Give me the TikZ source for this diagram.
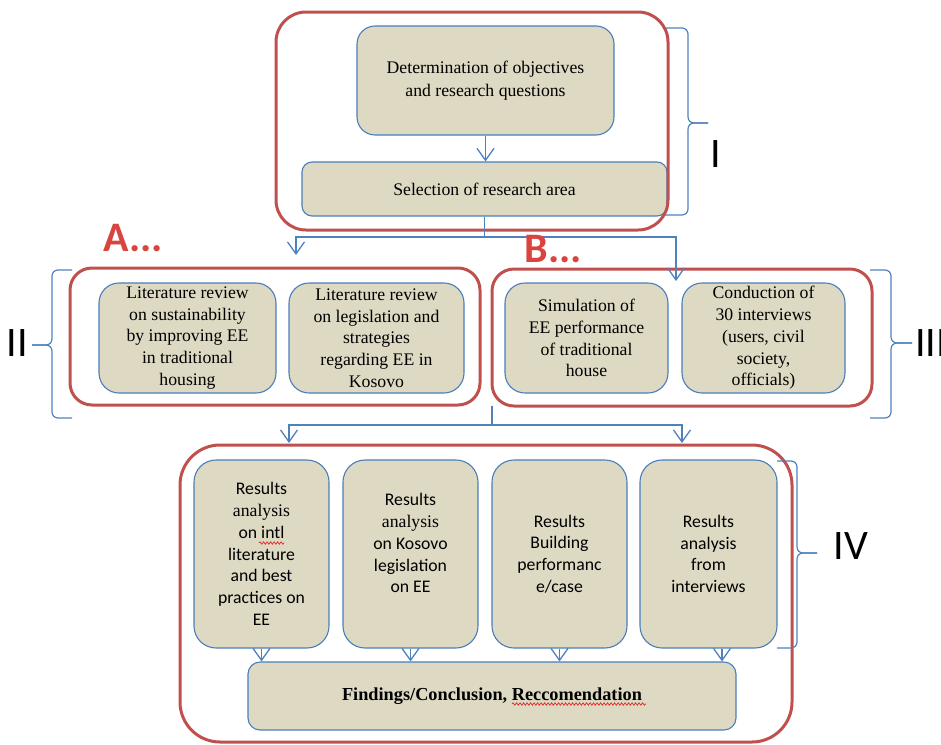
\documentclass[tikz,border=0pt]{standalone}
\usepackage{fontspec}
\setmainfont{Liberation Serif}
\newfontfamily\calib{Carlito}
\usepackage{tikz}
\usetikzlibrary{arrows.meta,decorations.pathmorphing}

\definecolor{boxtan}{HTML}{DDD9C3}
\definecolor{edgeblue}{HTML}{4A7EBB}
\definecolor{linkblue}{HTML}{4F81BD}
\definecolor{grpred}{HTML}{C0504D}
\definecolor{spellred}{HTML}{E02828}
\definecolor{letterred}{HTML}{D9443F}

\begin{document}
\begin{tikzpicture}
		[x=1pt,y=-1pt,
		box/.style={draw=edgeblue,line width=1.1pt,fill=boxtan,rounded corners=#1,align=center,inner sep=0pt,
			font=\fontsize{17.7}{21.7}\selectfont},
		box/.default=20pt,
		res/.style={box=22pt,minimum width=135pt,minimum height=188pt,font=\calib\fontsize{17.7}{21.8}\selectfont},
		grp/.style={draw=grpred,line width=3pt,rounded corners=#1,inner sep=0pt},
		grp/.default=22pt,
		link/.style={draw=linkblue,line width=1.3pt},
		arr/.style={link,-{Straight Barb[length=12pt,width=17pt,line width=1.3pt]}},
		brc/.style={draw=linkblue,line width=1.2pt,rounded corners=6pt},
		wave/.style={draw=spellred,line width=0.7pt,decorate,decoration={snake,amplitude=1.2pt,segment length=3.5pt}},
		lbl/.style={font=\calib\fontsize{42}{42}\selectfont,inner sep=0pt},
		letter/.style={font=\calib\bfseries\fontsize{42}{42}\selectfont,text=letterred,inner sep=0pt}]

		\useasboundingbox (0,0) rectangle (941,744);
		\clip (0,0) rectangle (941,744);

		% phase I
		\node[box=18pt,minimum width=257pt,minimum height=109pt,font=\fontsize{17.7}{23}\selectfont] (det) at (485.5,80.5)
			{Determination of objectives\\and research questions};
		\node[box=10pt,minimum width=365pt,minimum height=54pt] (sel) at (484.5,189) {Selection of research area};
		\node[grp=30pt,minimum width=392pt,minimum height=218pt] (grpI) at (472,121) {};

		% phase II and III
		\node[box,minimum width=177pt,minimum height=110pt] (lit1) at (187.5,338)
			{Literature review\\on sustainability\\by improving EE\\in traditional\\housing};
		\node[box,minimum width=175pt,minimum height=110pt] (lit2) at (376.5,338)
			{Literature review\\on legislation and\\strategies\\regarding EE in\\Kosovo};
		\node[box,minimum width=163pt,minimum height=110pt] (sim) at (586.5,338)
			{Simulation of\\EE performance\\of traditional\\house};
		\node[box,minimum width=163pt,minimum height=110pt] (con) at (763.5,338)
			{Conduction of\\30 interviews\\(users, civil\\society,\\officials)};
		\node[grp,minimum width=410pt,minimum height=137pt] (grpII) at (275,336.5) {};
		\node[grp,minimum width=380pt,minimum height=137pt] (grpIII) at (682,337.5) {};

		% phase IV
		\node[res] (res1) at (261.5,554)
			{Results\\{\rmfamily analysis}\\on intl\\literature\\and best\\practices on\\EE};
		\node[res] (res2) at (410.5,554)
			{Results\\{\rmfamily analysis}\\on Kosovo\\legislation\\on EE\\\mbox{}};
		\node[res] (res3) at (559.5,554)
			{Results\\Building\\performanc\\e/case};
		\node[res,minimum width=137pt] (res4) at (708.5,554)
			{Results\\analysis\\from\\interviews};
		\node[box=12pt,minimum width=488pt,minimum height=68pt,font=\bfseries\fontsize{18.3}{22}\selectfont] (fin) at (492,696)
			{Findings/Conclusion, Reccomendation};
		\node[grp=40pt,minimum width=612pt,minimum height=297pt] (grpIV) at (486,593.5) {};

		% spell check marks
		\coordinate (intlL) at (259,543);
		\coordinate (intlR) at (284,543);
		\coordinate (recL) at (512,704);
		\coordinate (recR) at (646,704);
		\draw[wave] (intlL) -- (intlR);
		\draw[wave] (recL) -- (recR);

		% connectors
		\coordinate (splitA) at (484.5,237);
		\coordinate (tipA) at (296,255);
		\coordinate (tipB) at (676,281);
		\coordinate (splitB) at (492,406);
		\coordinate (splitC) at (492,425);
		\coordinate (tipC) at (289,443);
		\coordinate (tipD) at (682,443);

		\draw[arr] (det.south) -- (det.south |- sel.north);
		\draw[link] (sel.south) -- (splitA);
		\draw[arr] (splitA) -| (tipA);
		\draw[arr] (splitA) -| (tipB);
		\draw[link] (splitB) -- (splitC);
		\draw[arr] (splitC) -| (tipC);
		\draw[arr] (splitC) -| (tipD);
		\draw[arr] (res1.south) -- (res1.south |- fin.north);
		\draw[arr] (res2.south) -- (res2.south |- fin.north);
		\draw[arr] (res3.south) -- (res3.south |- fin.north);
		\draw[arr] ([xshift=13.5pt]res4.south) -- ([xshift=13.5pt]res4.south |- fin.north);

		% braces
		\draw[brc] (665,28) -| (688,123) -- (708,123);
		\draw[brc] (665,215) -| (688,123) -- (708,123);
		\draw[brc] (72,270) -| (52,345) -- (32,345);
		\draw[brc] (72,418) -| (52,345) -- (32,345);
		\draw[brc] (870,270) -| (891,343) -- (912,343);
		\draw[brc] (870,418) -| (891,343) -- (912,343);
		\draw[brc] (777,461) -| (797,553) -- (817,553);
		\draw[brc] (777,648) -| (797,553) -- (817,553);

		% labels
		\node[lbl] (labI) at (715.5,154) {I};
		\node[lbl] (labII) at (17,343.5) {II};
		\node[lbl,anchor=west] (labIII) at (915,343) {III};
		\node[lbl] (labIV) at (851,546) {IV};
		\node[letter] (markA) at (133.5,238.5) {A...};
		\node[letter] (markB) at (553.5,249) {B...};

	\end{tikzpicture}
\end{document}
